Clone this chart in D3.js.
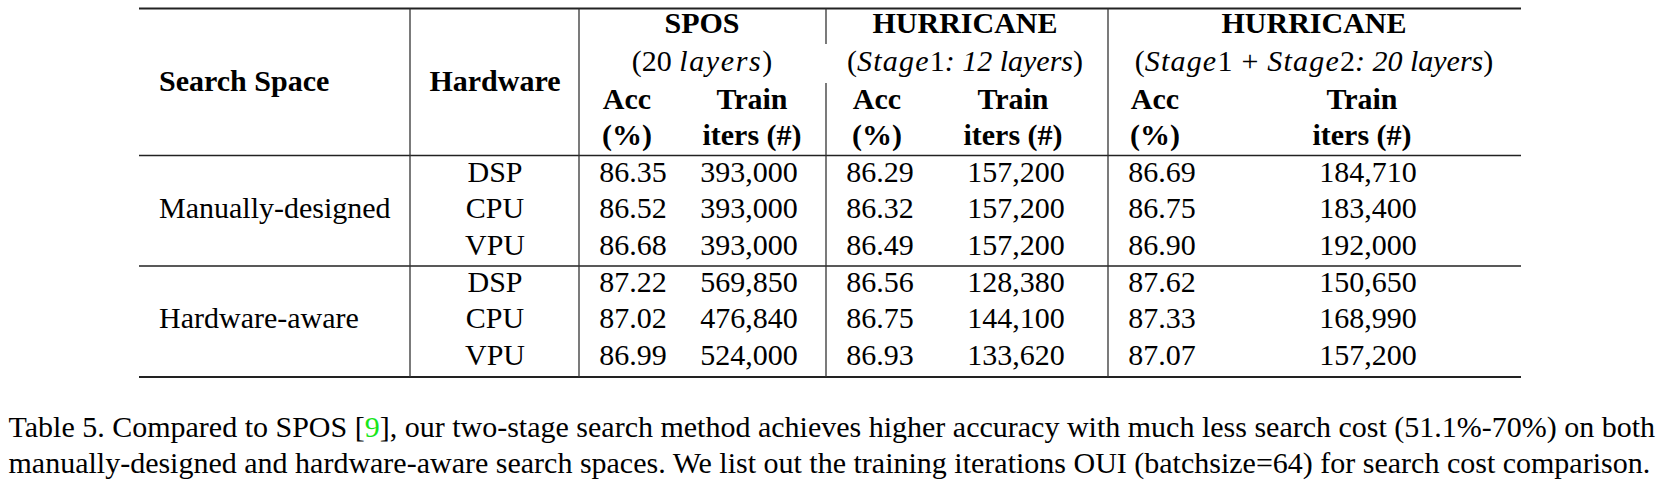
<!DOCTYPE html>
<html>
<head>
<meta charset="utf-8">
<script src="https://cdn.jsdelivr.net/npm/d3@7"></script>
</head>
<body style="margin:0; background:#fff">
<svg id="chart" width="1661" height="485"></svg>
<script>
const hardware = ["DSP", "CPU", "VPU", "DSP", "CPU", "VPU"];
const searchSpaces = ["Manually-designed", "Hardware-aware"];
const sposAcc = [86.35, 86.52, 86.68, 87.22, 87.02, 86.99];
const sposIters = [393000, 393000, 393000, 569850, 476840, 524000];
const hur1Acc = [86.29, 86.32, 86.49, 86.56, 86.75, 86.93];
const hur1Iters = [157200, 157200, 157200, 128380, 144100, 133620];
const hur2Acc = [86.69, 86.75, 86.90, 87.62, 87.33, 87.07];
const hur2Iters = [184710, 183400, 192000, 150650, 168990, 157200];

const captionLines = [
    [["Table 5. Compared to SPOS [", "#000"], ["9", "#19e619"], ["], our two-stage search method achieves higher accuracy with much less search cost (51.1%-70%) on both", "#000"]],
    [["manually-designed and hardware-aware search spaces. We list out the training iterations OUI (batchsize=64) for search cost comparison.", "#000"]]
];

const svg = d3.select("#chart");
const fs = 30;

// table frame
const left = 139, right = 1521;
const yTop = 8.5, yHead = 155.5, yMid = 266, yBottom = 377;
const vLines = [410, 579, 826, 1108];

// row and column scales
const rowY = d3.scalePoint().domain(d3.range(6)).range([171.6, 354.9]);
const colX = d3.scaleOrdinal()
    .domain(["hw", "sAcc", "sIt", "h1Acc", "h1It", "h2Acc", "h2It"])
    .range([495, 633, 749, 880, 1016, 1162, 1368]);

const fmtAcc = d3.format(".2f");
const fmtIt = d3.format(",");

const lines = svg.append("g");
[yTop, yHead, yMid, yBottom].forEach(y => {
    lines.append("line")
        .attr("x1", left).attr("x2", right)
        .attr("y1", y).attr("y2", y)
        .attr("stroke", "#222")
        .attr("stroke-width", y === yTop || y === yBottom ? 1.8 : 1.6);
});
vLines.forEach(x => {
    const segs = x === 826 ? [[yTop, 44], [83, yBottom]] : [[yTop, yBottom]];
    segs.forEach(s => {
        lines.append("line")
            .attr("x1", x).attr("x2", x)
            .attr("y1", s[0]).attr("y2", s[1])
            .attr("stroke", "#333")
            .attr("stroke-width", 1.3);
    });
});

function label(x, y, txt, opts) {
    opts = opts || {};
    return svg.append("text")
        .attr("x", x).attr("y", y)
        .attr("dy", "0.34em")
        .attr("text-anchor", opts.anchor || "middle")
        .attr("font-size", fs)
        .attr("font-weight", opts.bold ? "bold" : null)
        .style("font-family", '"Times New Roman"')
        .text(txt);
}

// header
label(159, 80.5, "Search Space", {bold: true, anchor: "start"});
label(495, 80.5, "Hardware", {bold: true});

// [text, italic, letter spacing, dx]
const groups = [
    {title: "SPOS", cx: 702, acc: 627, it: 752,
     sub: [["(20 ", false, 0, 0], ["layers", true, 1.6, 0], [")", false, 0, 0]]},
    {title: "HURRICANE", cx: 965, acc: 877, it: 1013,
     sub: [["(", false, 0, 0], ["Stage", true, 1.2, 0], ["1", false, 0, 0], [": 12 layers", true, 0, 0], [")", false, 0, 0]]},
    {title: "HURRICANE", cx: 1314, acc: 1155, it: 1362,
     sub: [["(", false, 0, 0], ["Stage", true, 1.2, 0], ["1", false, 0, 0], ["+", false, 0, 9],
           ["Stage", true, 1.2, 9], ["2", false, 0, 0], [": 20 layers", true, 0, 0], [")", false, 0, 0]]}
];

groups.forEach(g => {
    label(g.cx, 23, g.title, {bold: true});
    const t = label(g.cx, 61, "");
    g.sub.forEach(p => {
        t.append("tspan")
            .attr("font-style", p[1] ? "italic" : null)
            .attr("letter-spacing", p[2] || null)
            .attr("dx", p[3] || null)
            .text(p[0]);
    });
    label(g.acc, 98.5, "Acc", {bold: true});
    label(g.it, 98.5, "Train", {bold: true});
    label(g.acc, 134.5, "(%)", {bold: true});
    label(g.it, 134.5, "iters (#)", {bold: true});
});

// body
label(159, rowY(1), searchSpaces[0], {anchor: "start"});
label(159, rowY(4), searchSpaces[1], {anchor: "start"});

const columns = [
    ["hw", hardware, d => d],
    ["sAcc", sposAcc, fmtAcc],
    ["sIt", sposIters, fmtIt],
    ["h1Acc", hur1Acc, fmtAcc],
    ["h1It", hur1Iters, fmtIt],
    ["h2Acc", hur2Acc, fmtAcc],
    ["h2It", hur2Iters, fmtIt]
];

columns.forEach(c => {
    svg.append("g")
        .selectAll("text")
        .data(c[1])
        .enter().append("text")
        .attr("x", colX(c[0]))
        .attr("y", (d, i) => rowY(i))
        .attr("dy", "0.34em")
        .attr("text-anchor", "middle")
        .attr("font-size", fs)
        .style("font-family", '"Times New Roman"')
        .text(c[2]);
});

// caption
const capY = d3.scalePoint().domain([0, 1]).range([427, 463]);
captionLines.forEach((ln, i) => {
    const t = label(8.5, capY(i), "", {anchor: "start"});
    ln.forEach(p => {
        t.append("tspan").attr("fill", p[1]).text(p[0]);
    });
});
</script>
</body>
</html>
